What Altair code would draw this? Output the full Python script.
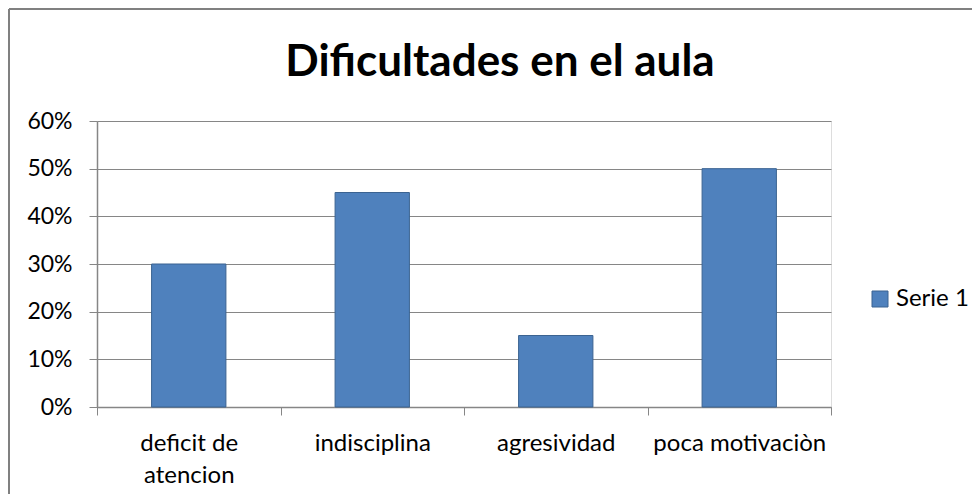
import altair as alt
import pandas as pd

categorias = ["deficit de\natencion", "indisciplina", "agresividad", "poca motivaciòn"]
valores = [0.30, 0.45, 0.15, 0.50]
serie = ["Serie 1"] * 4
titulo = "Dificultades en el aula"

df = pd.DataFrame({"categoria": categorias, "valor": valores, "serie": serie})

FONT = "Lato"
GRAY = "#868686"

bars = alt.Chart(df).mark_bar(
    width=alt.RelativeBandSize(0.405),
    stroke="#3B6391",
    strokeWidth=1,
).encode(
    x=alt.X(
        "categoria:N",
        sort=categorias,
        scale=alt.Scale(paddingInner=0, paddingOuter=0),
        axis=alt.Axis(
            title=None,
            labelAngle=0,
            labelExpr="split(datum.label, '\\n')",
            labelFont=FONT,
            labelFontSize=24,
            labelColor="#000000",
            labelLineHeight=32,
            labelPadding=16,
            tickBand="extent",
            tickSize=8,
            tickColor=GRAY,
            domainColor=GRAY,
            domainWidth=1.5,
            grid=False,
        ),
    ),
    y=alt.Y(
        "valor:Q",
        scale=alt.Scale(domain=[0, 0.6]),
        axis=alt.Axis(
            title=None,
            format=".0%",
            values=[0, 0.1, 0.2, 0.3, 0.4, 0.5, 0.6],
            labelFont=FONT,
            labelFontSize=23,
            labelColor="#000000",
            labelPadding=17,
            tickSize=8,
            tickColor=GRAY,
            domainColor=GRAY,
            domainWidth=1.5,
            gridColor=GRAY,
            gridWidth=1.2,
        ),
    ),
    fill=alt.Fill(
        "serie:N",
        title=None,
        scale=alt.Scale(range=["#4F81BD"]),
        legend=alt.Legend(
            orient="none",
            legendX=771,
            legendY=166,
            padding=0,
            symbolType="square",
            symbolSize=256,
            symbolStrokeColor="#3B6391",
            symbolStrokeWidth=1,
            labelFont=FONT,
            labelFontSize=24,
            labelColor="#000000",
            labelOffset=4,
        ),
    ),
)

title_mark = alt.Chart(alt.Data(values=[{"t": titulo}])).mark_text(
    font=FONT, fontSize=44, fontWeight="bold", color="#000000",
    align="center", baseline="alphabetic",
).encode(
    text="t:N", x=alt.value(403), y=alt.value(-45)
)

frame_top = alt.Chart(alt.Data(values=[{}])).mark_rule(color="#808080", strokeWidth=2).encode(
    x=alt.value(-88), x2=alt.value(2000), y=alt.value(-112)
)
frame_left = alt.Chart(alt.Data(values=[{}])).mark_rule(color="#808080", strokeWidth=2).encode(
    x=alt.value(-88), y=alt.value(-112), y2=alt.value(2000)
)

chart = alt.layer(bars, title_mark, frame_top, frame_left).properties(
    width=734,
    height=286,
    autosize=alt.AutoSizeParams(type="none"),
    padding={"left": 89, "top": 113, "right": 141, "bottom": 87},
).configure_view(
    fill="#E9EDF4",
    stroke=GRAY,
    strokeWidth=1,
).configure(background="#FFFFFF")

chart.save("out.html", embed_options={"renderer": "svg", "actions": False})
